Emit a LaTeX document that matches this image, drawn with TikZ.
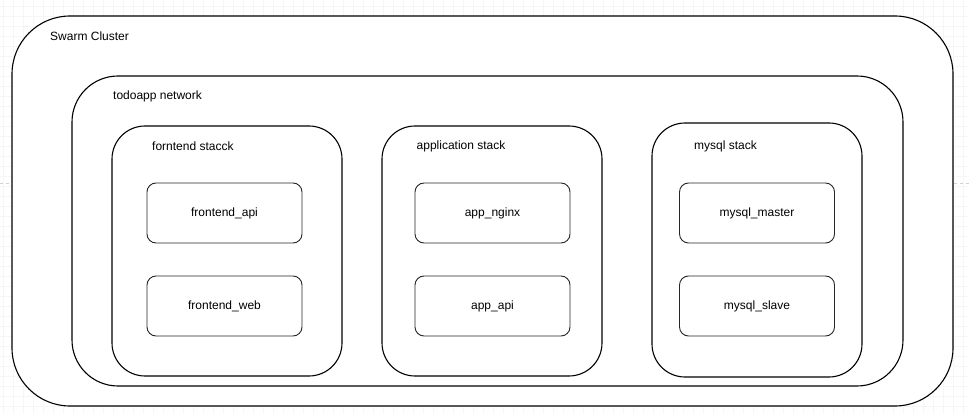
\documentclass[tikz,border=0pt]{standalone}
\usepackage{fontspec}
\setmainfont{Liberation Sans}

\begin{document}
\begin{tikzpicture}[x=1pt, y=-1pt, font=\fontsize{12}{14}\selectfont,
    cluster/.style ={draw, fill=white, line width=1.1pt, rounded corners=58pt},
    network/.style ={draw, fill=white, line width=1.1pt, rounded corners=46pt},
    stackbox/.style ={draw, fill=white, line width=1.1pt, rounded corners=33pt},
    service/.style ={draw=black!85, fill=white, line width=0.9pt, rounded corners=9pt,
                     minimum width=155pt, minimum height=60pt, inner sep=0pt},
    title/.style ={anchor=west, inner sep=0pt}]
   \useasboundingbox (0,0) rectangle (969,414);
   % background grid
   \foreach \gx in {3,13,...,963} \draw[gray!7, line width=0.6pt] (\gx,0) -- (\gx,414);
   \foreach \gy in {6,16,...,406} \draw[gray!7, line width=0.6pt] (0,\gy) -- (969,\gy);
   \draw[gray!35, dashed, line width=0.6pt] (0,183) -- (969,183);
   % containers
   \node[cluster, minimum width=941pt, minimum height=390pt] (swarm) at (482.5,211) {};
   \node[title] (swarmlabel) at (50,36) {Swarm Cluster};
   \node[network, minimum width=831pt, minimum height=310pt] (todonet) at (487.5,231) {};
   \node[title] (netlabel) at (113,96) {todoapp network};
   \node[stackbox, minimum width=230pt, minimum height=250pt] (frontstack) at (227,251) {};
   \node[title] (frontlabel) at (152,146) {forntend stacck};
   \node[stackbox, minimum width=220pt, minimum height=250pt] (appstack) at (492,251) {};
   \node[title] (applabel) at (416.5,146) {application stack};
   \node[stackbox, minimum width=210pt, minimum height=254pt] (sqlstack) at (757,250) {};
   \node[title] (sqllabel) at (694,146) {mysql stack};
   % services
   \node[service] (frontapi) at (224.5,213) {frontend\_api};
   \node[service] (frontweb) at (224.5,306) {frontend\_web};
   \node[service] (appnginx) at (492.5,213) {app\_nginx};
   \node[service] (appapi) at (492.5,306) {app\_api};
   \node[service] (sqlmaster) at (757,213) {mysql\_master};
   \node[service] (sqlslave) at (757,306) {mysql\_slave};
\end{tikzpicture}
\end{document}
